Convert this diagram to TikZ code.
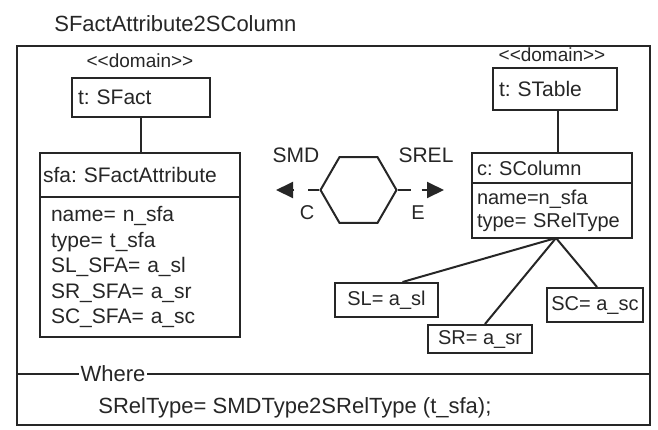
\documentclass[tikz,border=0pt]{standalone}
\usepackage{fontspec}
\setmainfont{Liberation Sans}
\usepackage{tikz}
\usetikzlibrary{positioning,shapes.geometric,arrows.meta}
\colorlet{ink}{black!85}
\newcommand{\boxfont}{\fontsize{21}{25.5}\selectfont}
\newcommand{\colfont}{\fontsize{20}{23}\selectfont}
\frenchspacing

\begin{document}
\begin{tikzpicture}[x=1pt, y=-1pt, ink, line width=2pt,
    umlbox/.style={draw, align=left, inner xsep=6pt, inner ysep=0pt, outer sep=0pt, font=\boxfont},
    valbox/.style={draw, inner xsep=4pt, minimum height=32pt, font=\colfont},
    flow/.style={dash pattern=on 11pt off 14pt, -{Triangle[length=17pt,width=16pt]}}]
    \useasboundingbox (0,0) rectangle (658,429);

    \node[anchor=west, font=\fontsize{22}{26}\selectfont] (title) at (50,24) {SFactAttribute2SColumn};
    \draw[line width=2.5pt] (17,46) rectangle (650,425);
    \draw[line width=2.5pt] (17,374) -- (650,374);
    \node[fill=white, inner xsep=2pt, font=\fontsize{22}{26}\selectfont] (where) at (113,374) {Where};
    \node[anchor=west, font=\fontsize{22}{26}\selectfont] (reltype) at (94,408) {SRelType= SMDType2SRelType (t\_sfa);};

    \node[font=\fontsize{19}{22}\selectfont] (dom1) at (140,61) {{<}{<}domain{>}{>}};
    \node[umlbox, text width=126pt, minimum height=39pt] (fact) at (141,97.5) {t: SFact};
    \node[umlbox, inner xsep=3pt, text width=194pt, minimum height=44pt, anchor=north] (sfahead) at (140,153) {sfa: SFactAttribute};
    \node[umlbox, inner xsep=11pt, text width=178pt, minimum height=140pt, below=0pt of sfahead] (sfabody) {name= n\_sfa\\type= t\_sfa\\SL\_SFA= a\_sl\\SR\_SFA= a\_sr\\SC\_SFA= a\_sc};
    \draw (fact.south) -- (fact.south |- sfahead.north);

    \node[font=\fontsize{19}{22}\selectfont] (dom2) at (552,55) {{<}{<}domain{>}{>}};
    \node[umlbox, text width=112pt, minimum height=42pt] (table) at (555,89) {t: STable};
    \node[umlbox, inner xsep=5pt, text width=150pt, minimum height=30pt, anchor=north, font=\colfont] (colhead) at (552,153) {c: SColumn};
    \node[umlbox, inner xsep=5pt, text width=150pt, minimum height=55pt, below=0pt of colhead, font=\colfont] (colbody) {name=n\_sfa\\type= SRelType};
    \draw ([xshift=3pt]table.south) -- ([xshift=3pt]table.south |- colhead.north);

    \node[valbox, minimum width=103pt, minimum height=34pt] (sl) at (386.5,300) {SL= a\_sl};
    \node[valbox, minimum width=104pt, minimum height=28pt] (sr) at (480,339) {SR= a\_sr};
    \node[valbox, minimum width=96pt, minimum height=34pt] (sc) at (595,305) {SC= a\_sc};
    \coordinate (hub) at ([xshift=4pt]colbody.south);
    \draw (hub) -- ([xshift=16pt]sl.north);
    \draw (hub) -- ([xshift=5pt]sr.north);
    \draw (hub) -- ([xshift=2pt]sc.north);

    \node[draw, regular polygon, regular polygon sides=6, minimum size=76pt, inner sep=0pt] (hex) at (358.5,190) {};
    \coordinate (smd) at (276,190);
    \coordinate (srel) at (444,190);
    \draw[flow] (hex.west) -- (smd);
    \draw[flow, dash pattern=on 13pt off 11pt] (hex.east) -- (srel);
    \node[font=\boxfont] (smdlabel) at (296,155) {SMD};
    \node[font=\boxfont] (srellabel) at (426,155) {SREL};
    \node[font=\colfont] (clabel) at (307,213) {C};
    \node[font=\colfont] (elabel) at (418,213) {E};
\end{tikzpicture}
\end{document}
